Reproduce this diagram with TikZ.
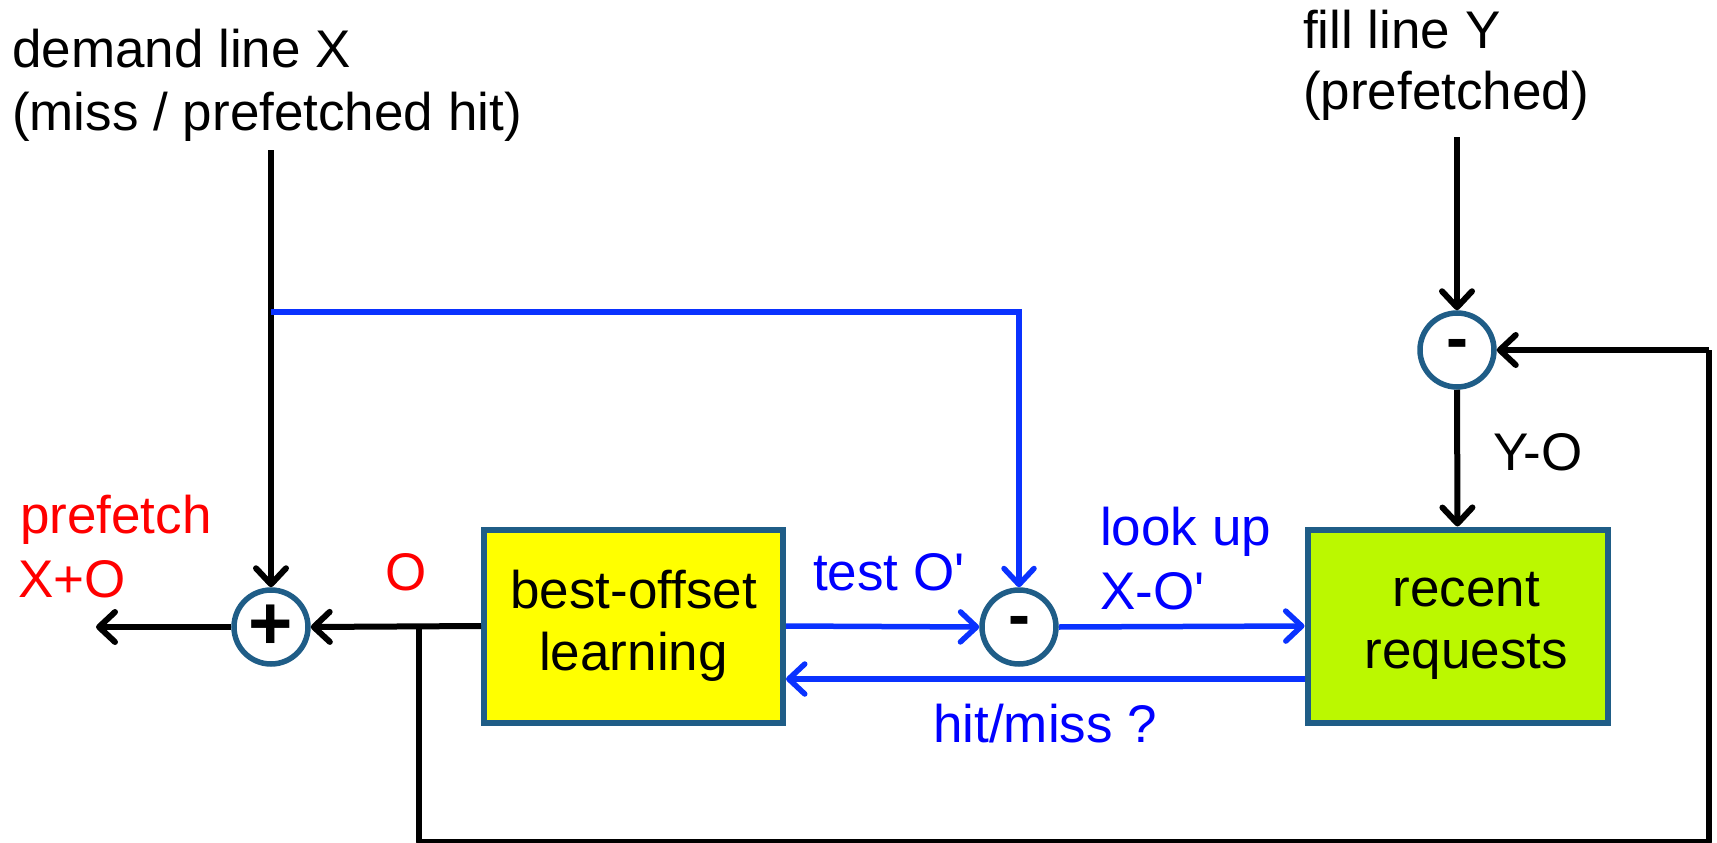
\documentclass[tikz,border=0pt]{standalone}
\usepackage{fontspec}
\setmainfont{Liberation Sans}
\usetikzlibrary{arrows.meta}
\definecolor{bcol}{RGB}{31,93,135}
\definecolor{lblue}{RGB}{10,50,255}
\definecolor{tblue}{RGB}{0,0,255}
\definecolor{ycol}{RGB}{255,255,0}
\definecolor{gcol}{RGB}{187,248,0}
\begin{document}
\begin{tikzpicture}[x=1pt,y=-1pt,
  txt/.style={font=\fontsize{53}{62}\selectfont, inner sep=0pt, anchor=base west},
  sum/.style={circle, draw=bcol, fill=white, line width=5.5pt, minimum size=74pt, inner sep=0pt, font=\fontsize{66}{66}\selectfont\bfseries},
  blk/.style={draw=bcol, line width=6pt, minimum width=299pt, minimum height=193pt, inner sep=0pt, align=center, font=\fontsize{53}{62}\selectfont},
  arr/.style={line width=6pt, -{Straight Barb[length=16pt,width=30pt,round]}},
  barr/.style={draw=lblue, line width=5.5pt, -{Straight Barb[length=16pt,width=30pt,round]}},
  plain/.style={line width=6pt}]
\useasboundingbox (0,0) rectangle (1717,843);

% blocks
\node[blk, fill=ycol] (bo) at (633.5,626) {best-offset\\learning};
\node[blk, fill=gcol, minimum width=300pt] (rr) at (1457.5,626) {\hspace*{18pt}recent\\\hspace*{18pt}requests};

% summing circles
\node[sum] (plus) at (271,627) {\fontsize{76}{76}\selectfont\raisebox{-2pt}{+}};
\node[sum] (m1) at (1019,627) {\raisebox{-3pt}{-}};
\node[sum] (m2) at (1457,350) {\raisebox{-3pt}{-}};

% free ends
\coordinate (dtop) at (271,150);
\coordinate (ftop) at (1457,137);
\coordinate (out) at (96,627);
\coordinate (bj) at (271,312);
\coordinate (j1) at (419,627);
\coordinate (c1) at (419,842);
\coordinate (c2) at (1709,842);
\coordinate (c3) at (1709,350);

% black connectors
\draw[arr] (dtop) -- (plus.north);
\draw[arr] (plus.west) -- (out);
\draw[arr] (bo.west) -- (plus.east);
\draw[plain, line join=round] (j1) -- (c1) -- (c2) -- (c3);
\draw[arr, line join=round] (c3) -- (m2.east);
\draw[arr] (ftop) -- (m2.north);
\draw[arr] (m2.south) -- (rr.north);

% blue connectors
\draw[barr] (bj) -- (bj -| m1) -- (m1.north);
\draw[barr] (bo.east) -- (m1.west);
\draw[barr] (m1.east) -- (rr.west);
\draw[barr] ([yshift=-53pt]rr.west) -- ([yshift=-53pt]bo.east);

% texts
\node[txt] (d1) at (12,68) {demand line X};
\node[txt] (d2) at (12,130) {(miss / prefetched hit)};
\node[txt] (f1) at (1303,49) {fill line Y};
\node[txt] (f2) at (1303,110) {(prefetched)};
\node[txt, red] (p1) at (20,533) {prefetch};
\node[txt, red] (p2) at (18,597) {X+O};
\node[txt, red] (o) at (385,590) {O};
\node[txt, tblue] (t) at (813,590) {test O\textquotesingle};
\node[txt, tblue] (l1) at (1100,545) {look up};
\node[txt, tblue] (l2) at (1100,609) {X-O\textquotesingle};
\node[txt, tblue] (hm) at (933,742) {hit/miss ?};
\node[txt] (yo) at (1493,470) {Y-O};
\end{tikzpicture}
\end{document}
